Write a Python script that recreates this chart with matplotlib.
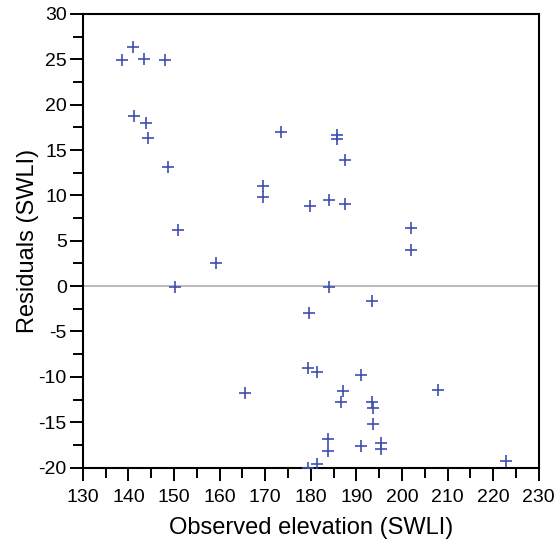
import matplotlib
matplotlib.use("Agg")
import matplotlib.pyplot as plt
from matplotlib.ticker import MultipleLocator

observed = [138.6, 141.0, 143.4, 148.0, 141.25, 143.75, 144.3, 148.6,
            173.4, 169.5, 169.5, 179.8, 150.9, 185.8, 185.8, 187.5,
            184.1, 187.5, 202.0, 202.0, 184.1, 159.2, 150.3, 179.6,
            179.3, 181.25, 165.5, 179.3, 181.25, 193.4, 191.0, 187.1,
            186.6, 193.4, 193.7, 208.0, 193.7, 183.8, 183.8, 191.0,
            195.4, 195.4, 222.9]
residuals = [24.9, 26.4, 25.0, 24.9, 18.8, 18.0, 16.3, 13.15,
             17.0, 11.05, 9.8, 8.8, 6.2, 16.6, 16.2, 13.85,
             9.5, 9.1, 6.4, 4.0, -0.15, 2.6, -0.1, -3.0,
             -9.05, -9.5, -11.8, -20.05, -19.6, -1.65, -9.8, -11.6,
             -12.75, -12.75, -13.4, -11.4, -15.2, -16.9, -18.2, -17.6,
             -17.3, -17.9, -19.3]

plt.rcParams['font.family'] = ['Liberation Sans', 'DejaVu Sans']
plt.rcParams['axes.unicode_minus'] = False

fig = plt.figure(figsize=(5.56, 5.56), dpi=100)
ax = fig.add_axes([0.149, 0.159, 0.820, 0.816])

# Nulllinie
ax.axhline(0, color='#b4b4b4', linewidth=1.3, zorder=1)

ax.plot(observed, residuals, linestyle='none', marker='+',
        markersize=9, markeredgewidth=1.2, color='#3f4fb0', zorder=3)

ax.set_xlim(130, 230)
ax.set_ylim(-20, 30)
ax.xaxis.set_major_locator(MultipleLocator(10))
ax.xaxis.set_minor_locator(MultipleLocator(5))
ax.yaxis.set_major_locator(MultipleLocator(5))
ax.yaxis.set_minor_locator(MultipleLocator(2.5))

ax.tick_params(which='both', direction='out', width=1.4, colors='black',
               labelsize=14)
ax.tick_params(which='major', length=9.5, pad=2)
ax.tick_params(which='minor', length=7)
ax.tick_params(axis='x', which='major', pad=6)

for side in ax.spines.values():
    side.set_linewidth(1.5)

ax.set_xlabel("Observed elevation (SWLI)", fontsize=17, labelpad=8)
ax.set_ylabel("Residuals (SWLI)", fontsize=17, labelpad=0)

plt.savefig("out.png", dpi=100)
plt.close()
